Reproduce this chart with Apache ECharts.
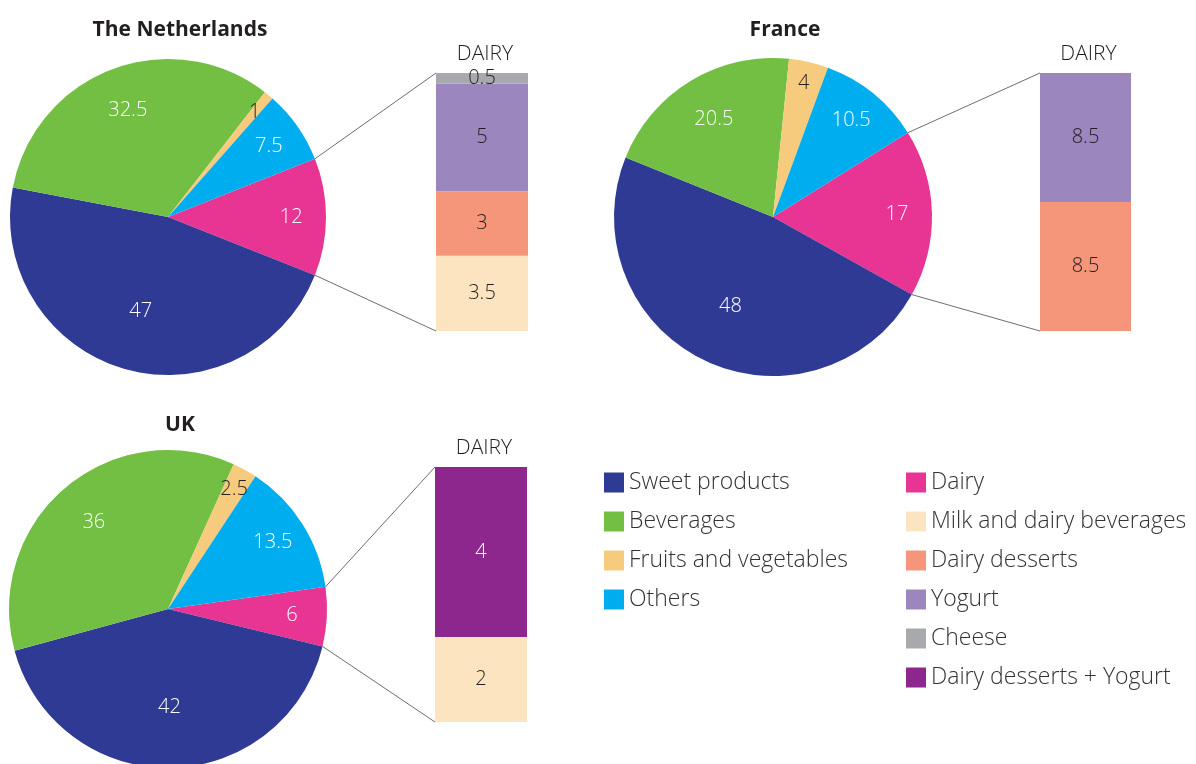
<!DOCTYPE html>
<html>
<head>
<meta charset="utf-8">
<script src="https://cdn.jsdelivr.net/npm/echarts@6/dist/echarts.min.js"></script>
<style>
    html, body { margin: 0; padding: 0; background: #fff; }
    #chart { width: 1196px; height: 764px; }
</style>
</head>
<body>
<div id="chart"></div>
<script>
    // pie categories (Dairy first, so it sits on the right side facing the bar)
    const pieCategories = ['Dairy', 'Sweet products', 'Beverages', 'Fruits and vegetables', 'Others'];
    const nlPie = [12, 47, 32.5, 1, 7.5];
    const frPie = [17, 48, 20.5, 4, 10.5];
    const ukPie = [6, 42, 36, 2.5, 13.5];

    // dairy breakdown, bottom of the bar first
    const nlDairyCats = ['Milk and dairy beverages', 'Dairy desserts', 'Yogurt', 'Cheese'];
    const nlDairy = [3.5, 3, 5, 0.5];
    const frDairyCats = ['Dairy desserts', 'Yogurt'];
    const frDairy = [8.5, 8.5];
    const ukDairyCats = ['Milk and dairy beverages', 'Dairy desserts + Yogurt'];
    const ukDairy = [2, 4];

    const legendLeft = ['Sweet products', 'Beverages', 'Fruits and vegetables', 'Others'];
    const legendRight = ['Dairy', 'Milk and dairy beverages', 'Dairy desserts', 'Yogurt', 'Cheese', 'Dairy desserts + Yogurt'];

    const colors = {
        'Sweet products': '#2f3a94',
        'Beverages': '#72bf44',
        'Fruits and vegetables': '#f7cb7d',
        'Others': '#00aeef',
        'Dairy': '#e83492',
        'Milk and dairy beverages': '#fde4c1',
        'Dairy desserts': '#f5967a',
        'Yogurt': '#9b86bd',
        'Cheese': '#a7a9ac',
        'Dairy desserts + Yogurt': '#8e278d'
    };
    const darkText = '#231f20';
    const font = 'Open Sans';

    const panels = [
        {name: 'The Netherlands', pie: nlPie, cats: nlDairyCats, vals: nlDairy,
            cx: 168, cy: 217, r: 158, start: 21.6, titleX: 180, titleY: 20,
            bar: {left: 436, top: 73, width: 92, height: 258}},
        {name: 'France', pie: frPie, cats: frDairyCats, vals: frDairy,
            cx: 773, cy: 217, r: 159, start: 32, titleX: 785, titleY: 20,
            bar: {left: 1040, top: 73, width: 91, height: 258}},
        {name: 'UK', pie: ukPie, cats: ukDairyCats, vals: ukDairy,
            cx: 168, cy: 609, r: 159, start: 8, titleX: 180, titleY: 415,
            bar: {left: 435, top: 467, width: 92, height: 255}}
    ];

    var chart = echarts.init(document.getElementById('chart'));

    const titles = [];
    const grids = [], xAxes = [], yAxes = [], series = [];

    panels.forEach(function (p, i) {
        const dairyTotal = p.vals.reduce(function (a, b) { return a + b; }, 0);
        titles.push({
            text: p.name, left: p.titleX, top: p.titleY, textAlign: 'center', padding: 0,
            textStyle: {fontFamily: font, fontSize: 21, fontWeight: 'bold', color: darkText}
        });
        titles.push({
            text: 'DAIRY', left: p.bar.left + p.bar.width / 2 + 3, top: p.bar.top - 29, textAlign: 'center', padding: 0,
            textStyle: {fontFamily: font, fontSize: 21, fontWeight: 300, color: darkText}
        });

        series.push({
            type: 'pie',
            name: p.name,
            center: [p.cx, p.cy],
            radius: p.r,
            startAngle: p.start,
            clockwise: true,
            silent: true,
            animation: false,
            itemStyle: {borderWidth: 0},
            label: {
                show: true, position: 'inside', formatter: '{c}',
                fontFamily: font, fontSize: 20, fontWeight: 300, color: '#fff'
            },
            labelLayout: function (params) {
                const v = p.pie[params.dataIndex];
                const frac = v > 40 ? 0.62 : (v >= 20 ? 0.72 : (v >= 5 ? 0.78 : 0.86));
                const lx = params.labelRect.x + params.labelRect.width / 2;
                const ly = params.labelRect.y + params.labelRect.height / 2;
                const vx = lx - p.cx, vy = ly - p.cy;
                const len = Math.sqrt(vx * vx + vy * vy) || 1;
                const k = (frac * p.r - len) / len;
                return {dx: vx * k, dy: vy * k};
            },
            data: pieCategories.map(function (c, j) {
                return {
                    name: c, value: p.pie[j],
                    itemStyle: {color: colors[c]},
                    label: {color: c === 'Fruits and vegetables' ? darkText : '#fff'}
                };
            })
        });

        grids.push({left: p.bar.left, top: p.bar.top, width: p.bar.width, height: p.bar.height});
        xAxes.push({type: 'category', gridIndex: i, data: ['Dairy'], show: false});
        yAxes.push({type: 'value', gridIndex: i, min: 0, max: dairyTotal, show: false});

        p.cats.forEach(function (c, j) {
            series.push({
                type: 'bar',
                name: c,
                xAxisIndex: i,
                yAxisIndex: i,
                stack: 'dairy' + i,
                barWidth: '100%',
                silent: true,
                animation: false,
                itemStyle: {color: colors[c]},
                label: {
                    show: true, position: 'inside', formatter: '{c}',
                    fontFamily: font, fontSize: 20, fontWeight: 300,
                    color: c === 'Dairy desserts + Yogurt' ? '#fff' : darkText
                },
                data: [p.vals[j]]
            });
        });
    });

    const legendBase = {
        orient: 'vertical', icon: 'rect', itemWidth: 20, itemHeight: 20, itemGap: 16,
        padding: 0, selectedMode: false,
        textStyle: {fontFamily: font, fontSize: 23, fontWeight: 300, color: '#333'}
    };

    const option = {
        backgroundColor: '#fff',
        animation: false,
        title: titles,
        legend: [
            Object.assign({}, legendBase, {data: legendLeft, left: 604, top: 471}),
            Object.assign({}, legendBase, {data: legendRight, left: 906, top: 471})
        ],
        grid: grids,
        xAxis: xAxes,
        yAxis: yAxes,
        series: series
    };
    chart.setOption(option);

    // connector lines from the dairy slice edges to the bar corners
    const lines = [];
    panels.forEach(function (p, i) {
        const dairyTotal = p.vals.reduce(function (a, b) { return a + b; }, 0);
        const a1 = p.start * Math.PI / 180;
        const a2 = (p.start - p.pie[0] * 3.6) * Math.PI / 180;
        const topY = chart.convertToPixel({yAxisIndex: i}, dairyTotal);
        const botY = chart.convertToPixel({yAxisIndex: i}, 0);
        const bx = p.bar.left;
        lines.push({
            type: 'line', silent: true,
            shape: {x1: p.cx + p.r * Math.cos(a1), y1: p.cy - p.r * Math.sin(a1), x2: bx, y2: topY},
            style: {stroke: '#6d6e71', lineWidth: 1}
        });
        lines.push({
            type: 'line', silent: true,
            shape: {x1: p.cx + p.r * Math.cos(a2), y1: p.cy - p.r * Math.sin(a2), x2: bx, y2: botY},
            style: {stroke: '#6d6e71', lineWidth: 1}
        });
    });
    chart.setOption({graphic: lines});

    window.addEventListener('resize', function () {
        chart.resize();
    });
</script>
</body>
</html>
